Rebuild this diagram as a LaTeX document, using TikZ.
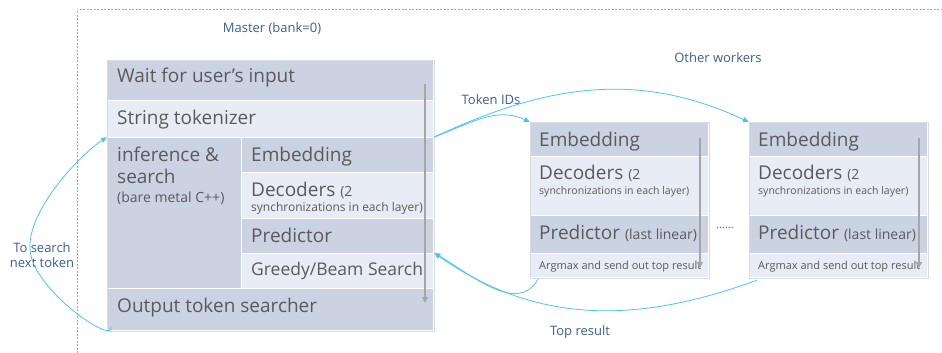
\documentclass[tikz,border=0pt]{standalone}
\usepackage{fontspec}
\setmainfont{Open Sans}
\usetikzlibrary{arrows.meta, calc, positioning}

\definecolor{rowdark}{HTML}{CBD3E3}
\definecolor{rowlight}{HTML}{E8ECF4}
\definecolor{framegray}{HTML}{D8DCE4}
\definecolor{txtgray}{HTML}{5A5A5A}
\definecolor{lblblue}{HTML}{3D5F8A}
\definecolor{linkcyan}{HTML}{4FC3EE}

\newcommand\bigf{\fontsize{19}{22}\selectfont}
\newcommand\midf{\fontsize{14}{16}\selectfont}
\newcommand\smallf{\fontsize{11}{13}\selectfont}

\begin{document}
\begin{tikzpicture}[x=1pt, y=-1pt,
   dark row/.style={rectangle, fill=rowdark, draw=white, line width=1.2pt, anchor=north west, inner sep=0, minimum width=#1},
   light row/.style={dark row=#1, fill=rowlight},
   big text/.style={font=\bigf, text=txtgray, anchor=base west, inner sep=0},
   mid text/.style={big text, font=\midf},
   small text/.style={big text, font=\smallf},
   label text/.style={font=\fontsize{13}{15}\selectfont, text=lblblue, anchor=base, inner sep=0, align=center},
   link/.style={draw=linkcyan, line width=0.8pt, -{Latex[length=6pt, width=6pt]}},
   flow/.style={draw=gray!70, line width=1.2pt, -{Triangle[length=6pt, width=6pt]}}]
   \useasboundingbox (0,0) rectangle (942,353);

   % master frame
   \draw[linkcyan, line width=0.9pt, dash pattern=on 2pt off 1.5pt] (77,353) -- (77,9) -- (942,9);
   \node[label text] (master) at (272,33) {Master (bank=0)};

   % master rows
   \node[dark row=326, minimum height=40]  (wait)    at (107,60)  {};
   \node[light row=326, minimum height=37] (tok)     at (107,100) {};
   \node[dark row=134, minimum height=151] (inf)     at (107,137) {};
   \node[dark row=192, minimum height=35]  (memb)    at (241,137) {};
   \node[light row=192, minimum height=46] (mdec)    at (241,172) {};
   \node[dark row=192, minimum height=35]  (mpred)   at (241,218) {};
   \node[light row=192, minimum height=35] (mgreedy) at (241,253) {};
   \node[dark row=326, minimum height=42]  (outtok)  at (107,288) {};
   \draw[framegray, line width=0.8pt] (wait.north west) rectangle (outtok.south east);

   \node[big text]   (waittxt)  at (117,82)  {Wait for user’s input};
   \node[big text]   (toktxt)   at (117,124) {String tokenizer};
   \node[big text]   (inftxt)   at (117,161) {inference \&};
   \node[big text]   (srchtxt)  at (117,183) {search};
   \node[mid text]   (baretxt)  at (117,202) {(bare metal C++)};
   \node[big text]   (membtxt)  at (251,161) {Embedding};
   \node[big text]   (mdectxt)  at (251,196) {Decoders {\midf (2}};
   \node[small text, font=\fontsize{12}{14}\selectfont] (msynctxt) at (251,211) {synchronizations in each layer)};
   \node[big text]   (mpredtxt) at (251,242) {Predictor};
   \node[big text, font=\fontsize{17.5}{20}\selectfont] (greedytxt) at (251,275) {Greedy/Beam Search};
   \node[big text]   (outtxt)   at (117,312) {Output token searcher};

   \coordinate (mtop) at (425,84);
   \coordinate (mbot) at (425,303);
   \draw[flow] (mtop) -- (mbot);

   % workers
   \foreach \w/\x in {1/530, 2/749} {
      \node[dark row=178, minimum height=34]  (emb\w)  at (\x,122) {};
      \node[light row=178, minimum height=59] (dec\w)  at (\x,156) {};
      \node[dark row=178, minimum height=38]  (pred\w) at (\x,215) {};
      \node[light row=178, minimum height=24] (arg\w)  at (\x,253) {};
      \draw[framegray, line width=0.8pt] (emb\w.north west) rectangle (arg\w.south east);
      \node[big text]   (embtxt\w)  at (\x+9,146) {Embedding};
      \node[big text]   (dectxt\w)  at (\x+9,179) {Decoders {\midf (2}};
      \node[small text, font=\fontsize{10.5}{12}\selectfont] (synctxt\w) at (\x+9,194) {synchronizations in each layer)};
      \node[big text]   (predtxt\w) at (\x+9,239) {Predictor {\midf (last linear)}};
      \node[small text] (argtxt\w)  at (\x+9,269) {Argmax and send out top result};
      \coordinate (wtop\w) at (\x+170,138);
      \coordinate (wbot\w) at (\x+170,268);
      \draw[flow] (wtop\w) -- (wbot\w);
   }
   \node[small text, anchor=base] (dots) at (725,228) {......};

   % links
   \node[label text] (others) at (718,63)  {Other workers};
   \node[label text] (tokids) at (491,104) {Token IDs};
   \node[label text] (topres) at (580,335) {Top result};
   \node[label text] (nextlbl) at (42,267) {To search\\next token};

   \draw[link] (memb.north east) to[out=20, in=155] (emb1.north west);
   \draw[link] (memb.north east) to[out=25, in=155] (emb2.north west);
   \draw[link] ($(arg1.south west)+(8,1)$) to[out=240, in=-30] (mgreedy.north east);
   \draw[link] ($(arg2.south west)+(8,2)$) to[out=200, in=-35] (mgreedy.north east);
   \draw[link] ($(outtok.south west)+(4,-4)$) .. controls (114,345) and (33,290) .. (30,250)
      .. controls (27,210) and (80,155) .. (inf.north west);
\end{tikzpicture}
\end{document}
